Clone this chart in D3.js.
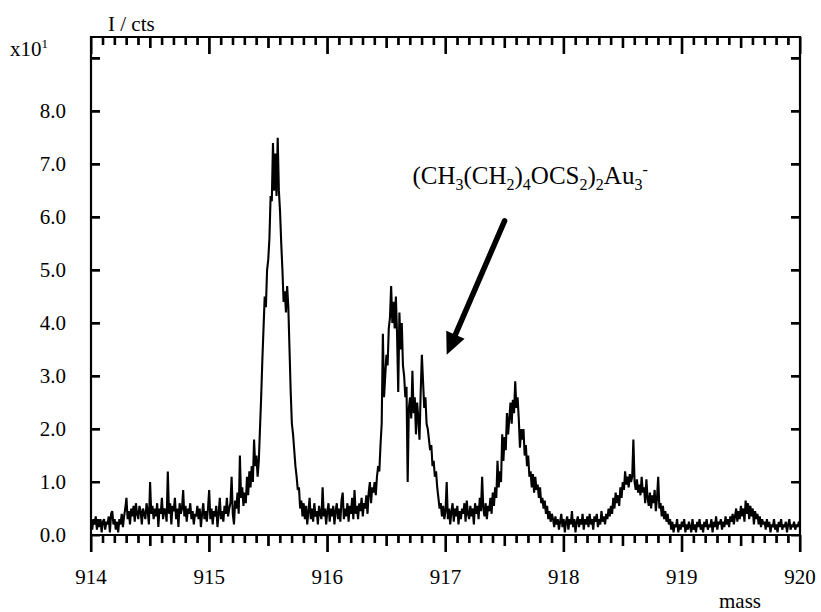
<!DOCTYPE html>
<html><head><meta charset="utf-8">
<script src="https://cdn.jsdelivr.net/npm/d3@7"></script>
<style>
body{margin:0;background:#fff}
svg text{font-family:"Liberation Serif","Times New Roman",serif;fill:#000}
</style>
</head><body>
<svg id="chart" width="821" height="612"></svg>
<script>
// ---- data ----
const massStart = 914.00;   // first mass of the scan
const massStep = 0.01;      // scan step (mass units)
// intensity in units of x10^1 cts, one value per scan step from 914.00 to 920.00
const intensity = [
0.3,0.1,0.3,0.2,0.35,0.1,0.3,0.15,0.3,0.05,
0.25,0.3,0.1,0.25,0.2,0.35,0.05,0.4,0.45,0.2,
0.3,0.1,0.25,0.05,0.3,0.2,0.4,0.15,0.35,0.5,
0.7,0.3,0.45,0.2,0.5,0.35,0.55,0.25,0.6,0.4,
0.3,0.55,0.45,0.2,0.5,0.4,0.3,0.6,0.45,0.2,
1.0,0.4,0.55,0.3,0.5,0.35,0.6,0.15,0.5,0.4,
0.7,0.3,0.5,0.45,0.25,1.2,0.4,0.6,0.2,0.55,
0.45,0.7,0.3,0.5,0.15,0.6,0.4,0.5,0.85,0.35,
0.55,0.25,0.5,0.4,0.6,0.3,0.45,0.2,0.4,0.35,
0.55,0.3,0.5,0.15,0.4,0.6,0.3,0.45,0.25,0.5,
0.85,0.3,0.5,0.2,0.45,0.35,0.55,0.15,0.4,0.7,
0.3,0.45,0.25,0.55,0.4,0.7,0.35,0.5,0.6,1.1,
0.4,0.2,0.65,0.5,0.8,0.4,1.5,0.7,0.9,0.55,
0.8,0.6,1.1,0.75,1.2,0.9,1.3,1.0,1.8,1.3,
1.5,1.1,1.4,2.0,2.6,3.3,3.9,4.5,4.3,5.0,
5.2,5.6,6.4,6.3,7.4,6.5,7.2,6.4,7.5,6.5,
6.1,5.5,5.0,4.4,4.6,4.2,4.7,4.3,3.5,2.7,
2.1,1.9,1.6,1.3,1.1,0.85,0.9,0.5,0.65,0.35,
0.6,0.3,0.55,0.2,0.45,0.7,0.3,0.5,0.25,0.6,
0.35,0.45,0.2,0.55,0.4,0.3,0.9,0.35,0.5,0.2,
0.45,0.6,0.25,0.5,0.35,0.55,0.2,0.45,0.6,0.3,
0.5,0.25,0.65,0.8,0.3,0.5,0.35,0.6,0.25,0.55,
0.4,0.7,0.3,0.85,0.4,0.55,0.3,0.6,0.45,0.7,
0.35,0.6,0.5,0.75,0.4,0.8,1.0,0.6,0.9,0.8,
1.0,0.75,1.1,1.3,1.2,1.7,2.1,3.8,2.6,3.0,
3.4,3.2,3.9,4.1,4.7,4.0,4.4,3.9,4.5,3.8,
2.7,4.2,3.5,4.0,3.2,3.0,2.6,2.8,1.0,2.4,
2.6,2.2,3.1,2.3,2.6,1.9,2.5,2.2,1.8,2.7,
3.4,2.9,2.4,2.6,2.1,2.0,1.8,1.6,1.7,1.3,
1.4,1.1,1.2,0.9,0.7,0.5,0.6,0.35,0.55,0.3,
0.45,1.0,0.3,0.5,0.2,0.45,0.6,0.25,0.5,0.35,
0.55,0.2,0.45,0.3,0.5,0.4,0.6,0.25,0.65,0.4,
0.3,0.55,0.35,0.5,0.2,0.6,0.4,0.55,0.3,0.7,
0.45,1.1,0.5,0.35,0.6,0.3,0.55,0.45,0.7,0.4,
0.8,0.55,0.9,0.7,1.4,0.9,1.2,1.0,1.9,1.4,
1.85,1.6,2.3,1.9,2.2,2.5,2.1,2.55,2.3,2.9,
2.4,2.6,2.2,1.65,2.0,1.8,2.0,1.5,1.7,1.3,
1.5,1.1,1.2,0.9,1.15,0.8,1.1,0.85,0.95,0.7,
0.9,0.6,0.7,0.5,0.65,0.4,0.55,0.3,0.45,0.25,
0.4,0.3,0.15,0.35,0.2,0.3,0.1,0.25,0.4,0.15,
0.3,0.05,0.25,0.35,0.1,0.3,0.2,0.45,0.15,0.3,
0.05,0.25,0.35,0.15,0.3,0.2,0.4,0.1,0.3,0.2,
0.35,0.15,0.4,0.2,0.3,0.1,0.35,0.25,0.4,0.15,
0.3,0.2,0.45,0.25,0.35,0.2,0.4,0.3,0.5,0.35,
0.55,0.4,0.7,0.5,0.8,0.6,0.75,0.55,0.9,0.7,
1.0,0.85,1.2,0.95,1.1,0.9,1.15,1.0,1.1,1.8,
1.0,0.85,1.05,0.8,0.95,0.75,1.1,0.8,0.9,0.6,
1.05,0.7,0.55,0.8,0.5,0.75,0.6,0.85,0.45,0.7,
1.1,0.5,0.6,0.35,0.55,0.3,0.45,0.25,0.4,0.2,
0.3,0.1,0.25,0.05,0.2,0.15,0.3,0.05,0.2,0.1,
0.25,0.15,0.3,0.05,0.2,0.1,0.25,0.15,0.05,0.3,
0.1,0.2,0.05,0.25,0.15,0.3,0.1,0.2,0.05,0.25,
0.15,0.3,0.1,0.2,0.15,0.3,0.05,0.25,0.15,0.35,
0.1,0.25,0.2,0.3,0.1,0.25,0.15,0.35,0.2,0.3,
0.15,0.35,0.25,0.4,0.2,0.35,0.5,0.25,0.45,0.3,
0.55,0.35,0.5,0.25,0.65,0.4,0.6,0.3,0.55,0.35,
0.5,0.2,0.45,0.3,0.4,0.2,0.35,0.15,0.3,0.2,
0.25,0.1,0.3,0.15,0.25,0.05,0.2,0.15,0.3,0.1,
0.2,0.05,0.25,0.15,0.3,0.1,0.2,0.15,0.25,0.05,
0.2,0.3,0.1,0.2,0.15,0.25,0.1,0.2,0.15,0.25,
0.2
];
const xMajorTicks = [914,915,916,917,918,919,920];
const xHalfTicks = [914.5,915.5,916.5,917.5,918.5,919.5];
const xMinorTicks = [914.1,914.2,914.3,914.4,914.6,914.7,914.8,914.9,
  915.1,915.2,915.3,915.4,915.6,915.7,915.8,915.9,
  916.1,916.2,916.3,916.4,916.6,916.7,916.8,916.9,
  917.1,917.2,917.3,917.4,917.6,917.7,917.8,917.9,
  918.1,918.2,918.3,918.4,918.6,918.7,918.8,918.9,
  919.1,919.2,919.3,919.4,919.6,919.7,919.8,919.9];
const yTicks = [0,1,2,3,4,5,6,7,8,9];
const yTickLabels = ["0.0","1.0","2.0","3.0","4.0","5.0","6.0","7.0","8.0",""];
const xDomain = [914, 920];
const yDomain = [0, 9.4];
const xTitle = "mass";
const yTitle = "I / cts";
const yMultiplier = ["x10","1"];
const labelParts = [["(CH",0],["3",1],["(CH",0],["2",1],[")",0],["4",1],["OCS",0],["2",1],[")",0],["2",1],["Au",0],["3",1],["-",2]];
const labelAt = [916.72, 6.62];      // annotation text anchor (mass, intensity)
const arrowFrom = [917.50, 5.93];    // arrow tail (mass, intensity)
const arrowTo = [917.01, 3.40];      // arrow tip (mass, intensity)

// ---- drawing ----
const svg = d3.select("#chart");
const L = 91, R = 800, T = 37, B = 535;
const xs = d3.scaleLinear().domain(xDomain).range([L, R]);
const ys = d3.scaleLinear().domain(yDomain).range([B, T]);
const FS = 21;

// spectrum
svg.append("defs").append("clipPath").attr("id","plotclip")
  .append("rect").attr("x",L).attr("y",T-1).attr("width",R-L).attr("height",B-T+1);
const spectrumLine = d3.line()
  .x((d,i) => xs(massStart + i*massStep))
  .y(d => ys(d));
svg.append("path").datum(intensity)
  .attr("clip-path","url(#plotclip)")
  .attr("d", spectrumLine).attr("fill","none").attr("stroke","#000")
  .attr("stroke-width",2.1).attr("stroke-linejoin","miter").attr("stroke-miterlimit",2);

// axis ticks via d3 axes (ticks outward below, inward on top/left/right)
function tickStyle(g){
  g.select(".domain").remove();
  g.selectAll(".tick line").attr("stroke","#000").attr("stroke-width",2);
}
[[xMinorTicks,8],[xHalfTicks,11],[xMajorTicks,17]].forEach(([vals,len]) => {
  svg.append("g").attr("transform",`translate(0,${B})`)
    .call(d3.axisBottom(xs).tickValues(vals).tickSizeInner(len).tickSizeOuter(0).tickFormat(() => ""))
    .call(tickStyle);
  svg.append("g").attr("transform",`translate(0,${T})`)
    .call(d3.axisTop(xs).tickValues(vals).tickSizeInner(-len).tickSizeOuter(0).tickFormat(() => ""))
    .call(tickStyle);
});
svg.append("g").attr("transform",`translate(${L},0)`)
  .call(d3.axisLeft(ys).tickValues(yTicks).tickSizeInner(-9).tickSizeOuter(0).tickFormat(() => ""))
  .call(tickStyle);
svg.append("g").attr("transform",`translate(${R},0)`)
  .call(d3.axisRight(ys).tickValues(yTicks).tickSizeInner(-9).tickSizeOuter(0).tickFormat(() => ""))
  .call(tickStyle);

// tick labels
svg.append("g").selectAll("text").data(xMajorTicks).join("text")
  .attr("x", d => xs(d)).attr("y", 584).attr("text-anchor","middle").attr("font-size",FS)
  .text(d => d);
svg.append("g").selectAll("text").data(yTicks).join("text")
  .attr("x", 66).attr("y", d => ys(d)).attr("dy","0.34em").attr("text-anchor","end").attr("font-size",FS)
  .text((d,i) => yTickLabels[i]);

// frame + ticks in one path as well
const tickPath = (vals, len) =>
  vals.map(v => "M" + xs(v).toFixed(2) + "," + B + "v" + len + "M" + xs(v).toFixed(2) + "," + T + "v" + len).join("");
const framePath = "M" + L + ",552V" + T + "H" + R + "V552M" + L + "," + B + "H" + R +
  tickPath(xMinorTicks, 8) + tickPath(xHalfTicks, 11) + tickPath(xMajorTicks, 17) +
  yTicks.map(v => "M" + L + "," + ys(v).toFixed(2) + "h9M" + R + "," + ys(v).toFixed(2) + "h-9").join("");
svg.append("path").attr("d", framePath)
  .attr("fill","none").attr("stroke","#000").attr("stroke-width",2.2);

// titles
svg.append("text").attr("x",108).attr("y",31).attr("font-size",FS).text(yTitle);
const mt = svg.append("text").attr("x",10).attr("y",56).attr("font-size",FS);
mt.append("tspan").text(yMultiplier[0]);
mt.append("tspan").attr("dy",-8).attr("font-size",13).text(yMultiplier[1]);
svg.append("text").attr("x",740).attr("y",608).attr("text-anchor","middle").attr("font-size",FS).text(xTitle);

// annotation
const lab = svg.append("text").attr("x",xs(labelAt[0])).attr("y",ys(labelAt[1])).attr("font-size",25);
let cur = 0;
const shift = {0:0, 1:6, 2:-9};
labelParts.forEach(([t,k]) => {
  const target = shift[k];
  const ts = lab.append("tspan").attr("dy", target - cur).text(t);
  if (k) ts.attr("font-size", 16);
  cur = target;
});
// arrow
const ax1 = xs(arrowFrom[0]), ay1 = ys(arrowFrom[1]), ax2 = xs(arrowTo[0]), ay2 = ys(arrowTo[1]);
const ang = Math.atan2(ay2-ay1, ax2-ax1), hl = 22, hw = 10;
const bx = ax2 - hl*Math.cos(ang), by = ay2 - hl*Math.sin(ang);
svg.append("path").attr("d",`M${ax1},${ay1}L${bx},${by}`)
  .attr("stroke","#000").attr("stroke-width",5.5).attr("stroke-linecap","round");
svg.append("path")
  .attr("d",`M${ax2},${ay2}L${bx + hw*Math.sin(ang)},${by - hw*Math.cos(ang)}L${bx - hw*Math.sin(ang)},${by + hw*Math.cos(ang)}Z`)
  .attr("fill","#000");
</script>
</body></html>
